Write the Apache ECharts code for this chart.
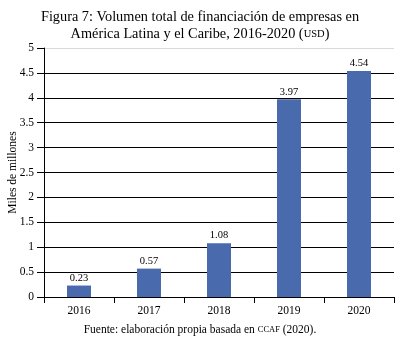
<!DOCTYPE html>
<html><head><meta charset="utf-8">
<script src="https://cdn.jsdelivr.net/npm/echarts@6/dist/echarts.min.js"></script>
<style>html,body{margin:0;padding:0;background:#fff}#c{width:400px;height:339px}</style>
</head><body><div id="c"></div>
<script>
const categories = ['2016','2017','2018','2019','2020'];
const values = [0.23, 0.57, 1.08, 3.97, 4.54];
const yTicks = [0, 0.5, 1, 1.5, 2, 2.5, 3, 3.5, 4, 4.5, 5];
const titleLine1 = 'Figura 7: Volumen total de financiación de empresas en';
const titleLine2 = 'América Latina y el Caribe, 2016-2020 (';
const yName = 'Miles de millones';
const FONT = '"Liberation Serif", "Times New Roman", serif';
const chart = echarts.init(document.getElementById('c'), null, {renderer:'canvas'});
const gridColors = yTicks.map((t,i)=> i === yTicks.length-1 ? '#d9d9d9' : '#000');
chart.setOption({
  animation:false,
  title:{
    text: titleLine1 + '\n' + titleLine2 + '{sc|USD})',
    left:'center', top:4,
    textStyle:{fontFamily:FONT, fontSize:14.3, fontWeight:'normal', color:'#000', lineHeight:17,
      rich:{sc:{fontFamily:FONT, fontSize:10.5, color:'#000'}}}
  },
  graphic:[{
    type:'text', left:'center', top:324,
    style:{text:'Fuente: elaboración propia basada en {sc|CCAF} (2020).', fontFamily:FONT, fontSize:11.5, fill:'#000',
      rich:{sc:{fontFamily:FONT, fontSize:8.5, fill:'#000'}}}
  }],
  grid:{left:44, right:6, top:48, bottom:42, containLabel:false, outerBoundsMode:'none'},
  xAxis:{
    type:'category', data:categories,
    axisLine:{lineStyle:{color:'#000', width:1}},
    axisTick:{show:true, length:6, lineStyle:{color:'#000'}},
    axisLabel:{fontFamily:FONT, fontSize:11.5, color:'#000', margin:8}
  },
  yAxis:{
    type:'value', min:0, max:5, interval:0.5,
    name:yName, nameLocation:'middle', nameGap:25, nameMoveOverlap:false,
    nameTextStyle:{fontFamily:FONT, fontSize:11.5, color:'#000'},
    axisLine:{show:true, lineStyle:{color:'#000'}},
    axisTick:{show:true, length:7, lineStyle:{color:'#000'}},
    axisLabel:{fontFamily:FONT, fontSize:11.5, color:'#000', margin:10},
    splitLine:{show:true, lineStyle:{color:gridColors, width:1}}
  },
  series:[{
    type:'bar', data:values, barWidth:24,
    itemStyle:{color:'#4a6aae'},
    label:{show:true, position:'top', distance:2, fontFamily:FONT, fontSize:10.5, color:'#000',
      formatter:p=>p.value.toFixed(2)}
  }]
});
</script></body></html>
